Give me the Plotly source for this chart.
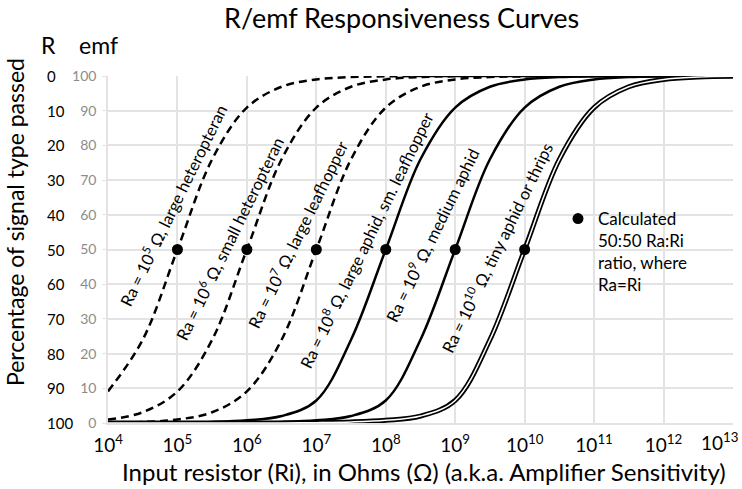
import plotly.graph_objects as go

# ---- data ----
RI_EXP = [4, 4.5, 5, 5.5, 6, 6.5, 7, 7.5, 8, 8.5, 9, 9.5, 10, 10.5, 11, 11.5, 12, 12.5, 13]
RI = [10 ** e for e in RI_EXP]

ra5 = [9.1, 24, 50, 76, 90.9, 96.9, 99.0, 99.7, 99.9, 100, 100, 100, 100, 100, 100, 100, 100, 100, 100]
ra6 = [1.0, 3.1, 9.1, 24, 50, 76, 90.9, 96.9, 99.0, 99.7, 99.9, 100, 100, 100, 100, 100, 100, 100, 100]
ra7 = [0.1, 0.3, 1.0, 3.1, 9.1, 24, 50, 76, 90.9, 96.9, 99.0, 99.7, 99.9, 100, 100, 100, 100, 100, 100]
ra8 = [0, 0, 0.1, 0.3, 0.8, 2.0, 6.5, 24, 50, 76, 90.9, 96.9, 99.0, 99.7, 99.9, 100, 100, 100, 100]
ra9 = [0, 0, 0, 0, 0.1, 0.3, 0.8, 2.0, 6.5, 24, 50, 76, 90.9, 96.9, 99.0, 99.7, 99.9, 100, 100]
ra10 = [0, 0, 0, 0, 0, 0, 0.1, 0.3, 0.8, 2.0, 6.5, 24, 50, 76, 90.9, 96.9, 99.0, 99.7, 99.9]

DOT_X = [1e5, 1e6, 1e7, 1e8, 1e9, 1e10]
DOT_Y = [50, 50, 50, 50, 50, 50]

CURVE_LABELS = [
    "Ra = 10<sup>5</sup> Ω, large heteropteran",
    "Ra = 10<sup>6</sup> Ω, small heteropteran",
    "Ra = 10<sup>7</sup> Ω, large leafhopper",
    "Ra = 10<sup>8</sup> Ω, large aphid, sm. leafhopper",
    "Ra = 10<sup>9</sup> Ω, medium aphid",
    "Ra = 10<sup>10</sup> Ω, tiny aphid or thrips",
]
X_TICK_EXP = [4, 5, 6, 7, 8, 9, 10, 11, 12, 13]
Y_TICKS = [0, 10, 20, 30, 40, 50, 60, 70, 80, 90, 100]
R_LABELS = [100, 90, 80, 70, 60, 50, 40, 30, 20, 10, 0]

FONT = "Lato"
W, H = 742, 489
L, R_, T, B = 108, 9, 76, 66
PW, PH = W - L - R_, H - T - B


def px(x):
    return (x - L) / PW


def py(y):
    return (H - B - y) / PH


fig = go.Figure()

for ys in [ra5, ra6, ra7]:
    fig.add_trace(go.Scatter(x=RI, y=ys, mode="lines",
                             line=dict(color="black", width=2.5, dash="8px,5px", shape="spline", smoothing=1),
                             showlegend=False, hoverinfo="skip"))
for ys in [ra8, ra9]:
    fig.add_trace(go.Scatter(x=RI, y=ys, mode="lines",
                             line=dict(color="black", width=2.5, shape="spline", smoothing=1),
                             showlegend=False, hoverinfo="skip"))
fig.add_trace(go.Scatter(x=RI, y=ra10, mode="lines", line=dict(color="black", width=5, shape="spline", smoothing=1),
                         showlegend=False, hoverinfo="skip"))
fig.add_trace(go.Scatter(x=RI, y=ra10, mode="lines", line=dict(color="white", width=1.5, shape="spline", smoothing=1),
                         showlegend=False, hoverinfo="skip"))

fig.add_trace(go.Scatter(x=DOT_X, y=DOT_Y, mode="markers", marker=dict(color="black", size=11),
                         name="Calculated<br>50:50 Ra:Ri<br>ratio, where<br>Ra=Ri", showlegend=True))

annotations = []
label_pos = [(173, 205), (229, 239), (297, 235), (366, 240), (432, 235), (497, 247)]
for txt, (cx, cy) in zip(CURVE_LABELS, label_pos):
    annotations.append(dict(xref="paper", yref="paper", x=px(cx), y=py(cy), text=txt, textangle=-64,
                            showarrow=False, font=dict(family=FONT, size=16.5, color="black"),
                            xanchor="center", yanchor="middle"))
for yv, lab in zip(Y_TICKS, R_LABELS):
    annotations.append(dict(xref="paper", yref="y", x=px(45), y=yv, text=str(lab), showarrow=False,
                            xanchor="left", yanchor="middle", font=dict(family=FONT, size=15, color="black")))
annotations += [
    dict(xref="paper", yref="paper", x=px(401), y=py(18), text="R/emf Responsiveness Curves", showarrow=False,
         xanchor="center", yanchor="middle", font=dict(family=FONT, size=27, color="black")),
    dict(xref="paper", yref="paper", x=px(48), y=py(45), text="R", showarrow=False,
         xanchor="center", yanchor="middle", font=dict(family=FONT, size=23, color="black")),
    dict(xref="paper", yref="paper", x=px(98), y=py(45), text="emf", showarrow=False,
         xanchor="center", yanchor="middle", font=dict(family=FONT, size=23, color="black")),
    dict(xref="paper", yref="paper", x=px(15), y=py(222), text="Percentage of signal type passed", showarrow=False,
         textangle=-90, xanchor="center", yanchor="middle", font=dict(family=FONT, size=23, color="black")),
    dict(xref="paper", yref="paper", x=px(424), y=py(471),
         text="Input resistor (Ri), in Ohms (Ω) (a.k.a. Amplifier Sensitivity)",
         showarrow=False, xanchor="center", yanchor="middle", font=dict(family=FONT, size=24, color="black")),
    # last decade label sits against the right edge of the chart
    dict(xref="x", yref="paper", x=X_TICK_EXP[-1], y=py(427), xshift=7,
         text="10<sup>%d</sup>" % X_TICK_EXP[-1], showarrow=False, xanchor="right", yanchor="top",
         font=dict(family=FONT, size=19, color="black")),
]

GRID = "#e3e3e3"
fig.update_layout(
    width=W, height=H, margin=dict(l=L, r=R_, t=T, b=B), paper_bgcolor="white", plot_bgcolor="white",
    font=dict(family=FONT, color="black"),
    xaxis=dict(type="log", range=[4, 13.0005], tickvals=[10 ** e for e in X_TICK_EXP],
               ticktext=["10<sup>%d</sup>" % e for e in X_TICK_EXP[:-1]] + [""], showgrid=True, gridcolor=GRID,
               gridwidth=1.5, showline=True, linecolor=GRID, linewidth=1.5, ticks="", zeroline=False,
               tickfont=dict(family=FONT, size=19, color="black"), ticklabelstandoff=4),
    yaxis=dict(range=[0, 100], tickvals=Y_TICKS, showgrid=True, gridcolor=GRID, gridwidth=1.5,
               showline=True, linecolor=GRID, linewidth=1.5, ticks="outside", ticklen=4, tickcolor=GRID,
               zeroline=False, tickfont=dict(family=FONT, size=14, color="#8c8c8c"), ticklabelstandoff=3),
    legend=dict(x=px(558), y=py(201), xanchor="left", yanchor="top", valign="top", bgcolor="rgba(0,0,0,0)",
                font=dict(family=FONT, size=17, color="black")),
    annotations=annotations,
)

fig.write_html("out.html", config={"displayModeBar": False},
               post_script="document.body.style.margin='0';document.body.style.overflow='hidden';")
